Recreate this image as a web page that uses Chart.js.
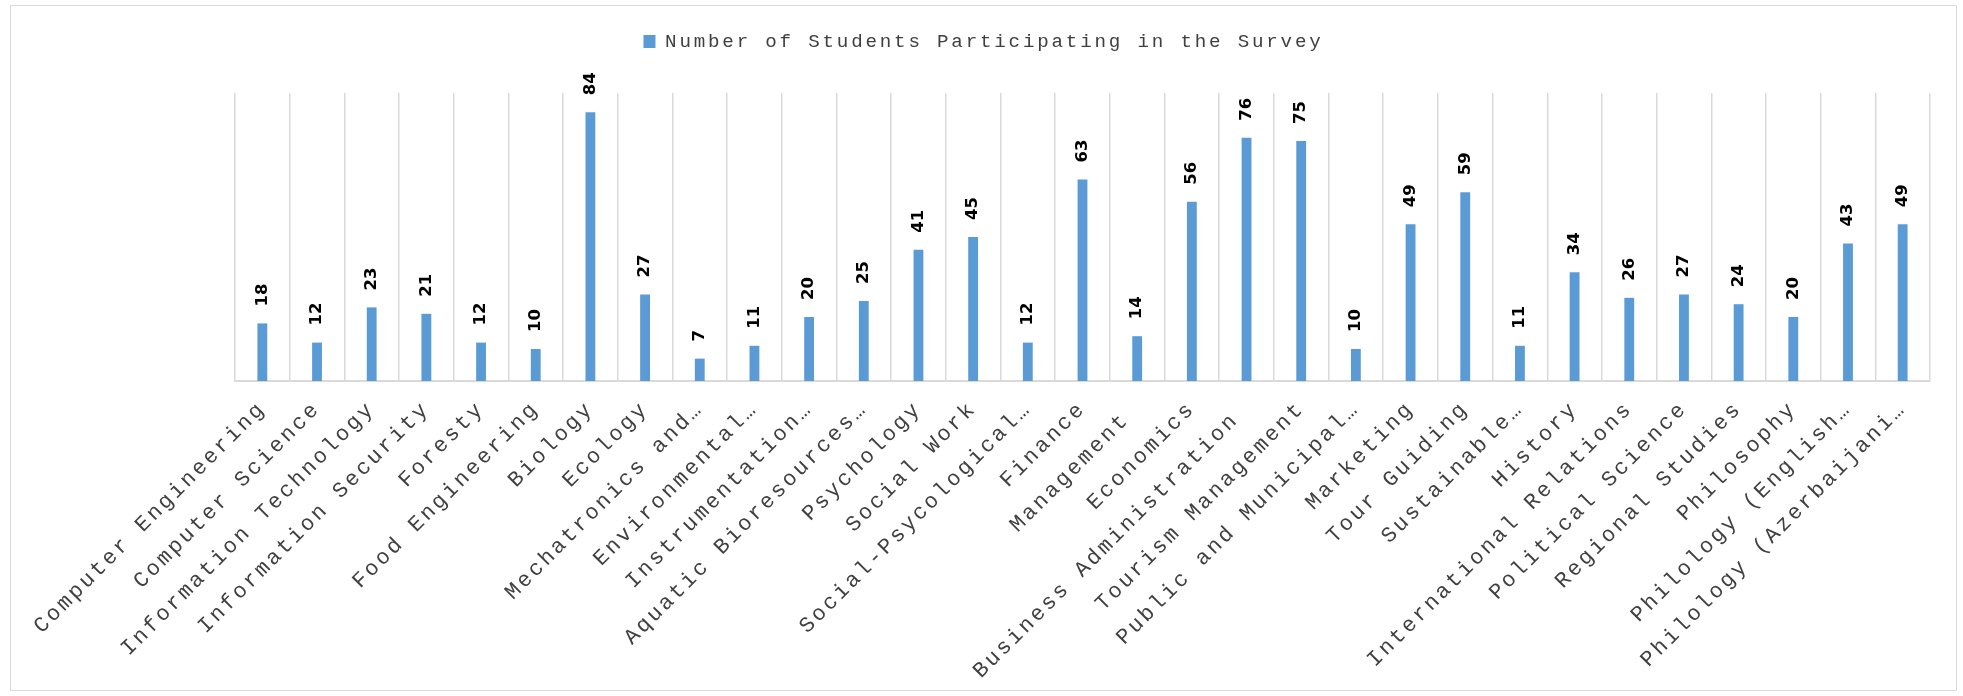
<!DOCTYPE html>
<html lang="en">
<head>
  <meta charset="UTF-8" />
  <title>Number of Students Participating in the Survey</title>
  <script src="https://cdn.jsdelivr.net/npm/chart.js@4.4.4/dist/chart.umd.min.js"></script>
  <style>
    * { box-sizing: border-box; margin: 0; padding: 0; }
    body { background: #fff; width: 1963px; height: 696px; overflow: hidden; }
    .frame { position: absolute; left: 10px; top: 5px; width: 1947px; height: 686px; border: 1px solid #d9d9d9; }
    canvas { display: block; }
  </style>
</head>
<body>
<div class="frame"><canvas id="chart" width="1945" height="684"></canvas></div>
<script>
const programs = [
  'Computer Engineering', 'Computer Science', 'Information Technology', 'Information Security',
  'Foresty', 'Food Engineering', 'Biology', 'Ecology', 'Mechatronics and…', 'Environmental…',
  'Instrumentation…', 'Aquatic Bioresources…', 'Psychology', 'Social Work', 'Social-Psycological…',
  'Finance', 'Management ', 'Economics', 'Business Administration ', 'Tourism Management',
  'Public and Municipal…', 'Marketing', 'Tour Guiding', 'Sustainable…', 'History',
  'International Relations', 'Political Science', 'Regional Studies', 'Philosophy',
  'Philology (English…', 'Philology (Azerbaijani…',
]
const students = [18, 12, 23, 21, 12, 10, 84, 27, 7, 11, 20, 25, 41, 45, 12, 63, 14, 56, 76, 75, 10, 49, 59, 11, 34, 26, 27, 24, 20, 43, 49]
const seriesName = 'Number of Students Participating in the Survey'
const yMax = 90

const mono = '"Liberation Mono", "Courier New", monospace'

// courier in the original is spaced wider than liberation mono, so widen all canvas text
const spacing = {
  id: 'spacing',
  afterInit(chart) {
    chart.ctx.letterSpacing = '2.8px'
  },
}

// value labels, rotated, drawn above each bar
const barValues = {
  id: 'barValues',
  afterDatasetsDraw(chart) {
    const {ctx} = chart
    const meta = chart.getDatasetMeta(0)
    ctx.save()
    ctx.letterSpacing = '0px'
    ctx.font = 'bold 16.5px "DejaVu Sans"'
    ctx.fillStyle = '#000'
    ctx.textAlign = 'left'
    ctx.textBaseline = 'middle'
    meta.data.forEach((bar, i) => {
      ctx.save()
      ctx.translate(bar.x, bar.y - 17)
      ctx.rotate(-Math.PI / 2)
      ctx.fillText(String(students[i]), 0, 0)
      ctx.restore()
    })
    ctx.restore()
  },
}

const hidden = {
  grid: { display: false },
  border: { display: false },
  ticks: { display: false },
}

new Chart(document.getElementById('chart'), {
  type: 'bar',
  data: {
    labels: programs,
    datasets: [{
      label: seriesName,
      data: students,
      backgroundColor: '#5b9bd5',
      borderWidth: 0,
      barPercentage: 0.36,
      categoryPercentage: 0.5,
    }],
  },
  options: {
    responsive: false,
    animation: false,
    layout: { padding: 0 },
    scales: {
      x: {
        offset: true,
        grid: { offset: true, color: '#d9d9d9', lineWidth: 1.5, drawTicks: false },
        border: { display: true, color: '#d9d9d9', width: 2 },
        ticks: {
          autoSkip: false,
          maxRotation: 45,
          minRotation: 45,
          padding: 15,
          color: '#404040',
          font: { family: mono, size: 21.8 },
        },
        // labels need less room than chart.js reserves for them
        afterFit(scale) { scale.height = 309 },
      },
      y: { ...hidden, min: 0, max: yMax, afterFit(scale) { scale.width = 224 } },
      yRight: { ...hidden, position: 'right', afterFit(scale) { scale.width = 26 } },
    },
    plugins: {
      legend: {
        position: 'top',
        labels: {
          boxWidth: 12,
          boxHeight: 13,
          padding: 26,
          color: '#404040',
          font: { family: mono, size: 19.2 },
        },
      },
      // empty spacer between legend and plot
      title: { display: true, text: '', weight: 500, padding: { top: 30.6, bottom: 0 }, font: { size: 1 } },
      tooltip: { enabled: false },
    },
  },
  plugins: [spacing, barValues],
})
</script>
</body>
</html>
